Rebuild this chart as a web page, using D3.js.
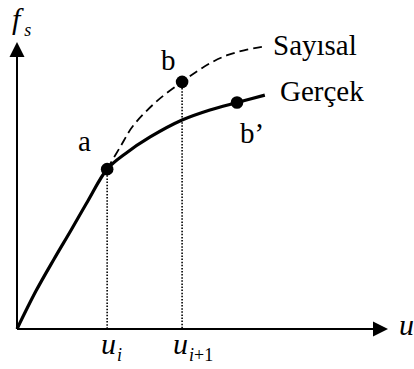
<!DOCTYPE html>
<html>
<head>
<meta charset="utf-8">
<script src="https://cdn.jsdelivr.net/npm/d3@7"></script>
<style>
  html, body { margin: 0; padding: 0; background: #fff; }
  svg { display: block; }
  svg text { font-family: "Liberation Serif", "DejaVu Serif", serif; }
</style>
</head>
<body>
<svg id="chart" width="414" height="369"></svg>
<script>
// Real (Gerçek) force–displacement curve
const realU  = [0, 0.51, 1.00, 1.46, 1.91, 2.43, 2.91, 3.59, 4.45, 5.20, 5.93, 6.68];
const realFs = [0, 1.32, 2.44, 3.45, 4.46, 5.57, 6.10, 6.69, 7.28, 7.63, 7.89, 8.15];

// Numerical (Sayısal) prediction starting from point a
const numU  = [2.43, 2.78, 3.13, 3.77, 4.45, 4.88, 5.26, 5.69, 6.12, 6.60];
const numFs = [5.57, 6.34, 7.08, 7.94, 8.61, 9.00, 9.30, 9.55, 9.71, 9.83];

// Marked states
const pointNames = ["a", "b", "b’"];
const pointU     = [2.43, 4.45, 5.93];
const pointFs    = [5.57, 8.61, 7.89];

// Displacement steps on the horizontal axis
const stepU      = [2.43, 4.45];
const stepFsTop  = [5.57, 8.61];

const svg = d3.select("#chart");
const x = d3.scaleLinear().domain([0, 10]).range([17, 388]);
const y = d3.scaleLinear().domain([0, 10]).range([329, 42]);

// Axes with arrow heads
const axX0 = x(0), axY0 = y(0);
svg.append("line")
  .attr("x1", axX0).attr("y1", axY0).attr("x2", x(10) - 15).attr("y2", axY0)
  .attr("stroke", "#000").attr("stroke-width", 2);
svg.append("line")
  .attr("x1", axX0).attr("y1", axY0).attr("x2", axX0).attr("y2", y(10) + 15)
  .attr("stroke", "#000").attr("stroke-width", 2);
svg.append("path")
  .attr("d", `M${x(10)},${axY0} L${x(10) - 15},${axY0 - 7.5} L${x(10) - 15},${axY0 + 7.5} Z`)
  .attr("fill", "#000");
svg.append("path")
  .attr("d", `M${axX0},${y(10)} L${axX0 - 7.5},${y(10) + 15} L${axX0 + 7.5},${y(10) + 15} Z`)
  .attr("fill", "#000");

// Dotted projections of a and b onto the u axis
svg.selectAll("line.step")
  .data(stepU.map((u, i) => ({u, f: stepFsTop[i]})))
  .join("line")
  .attr("class", "step")
  .attr("x1", d => x(d.u)).attr("x2", d => x(d.u))
  .attr("y1", d => y(d.f)).attr("y2", y(0))
  .attr("stroke", "#000").attr("stroke-width", 1.6)
  .attr("stroke-dasharray", "1.5,1.6");

const line = d3.line()
  .x(d => x(d[0])).y(d => y(d[1]))
  .curve(d3.curveCatmullRom.alpha(0.5));

// Numerical curve (dashed)
svg.append("path")
  .attr("d", line(numU.map((u, i) => [u, numFs[i]])))
  .attr("fill", "none").attr("stroke", "#000")
  .attr("stroke-width", 1.8).attr("stroke-dasharray", "9,5");

// Real curve (solid, thick)
svg.append("path")
  .attr("d", line(realU.map((u, i) => [u, realFs[i]])))
  .attr("fill", "none").attr("stroke", "#000")
  .attr("stroke-width", 3.2);

// State markers
svg.selectAll("circle.pt")
  .data(pointU.map((u, i) => ({u, f: pointFs[i]})))
  .join("circle")
  .attr("class", "pt")
  .attr("cx", d => x(d.u)).attr("cy", d => y(d.f))
  .attr("r", 6.3).attr("fill", "#000");

// Point labels
const labelPos = [[78, 151], [161, 70], [240, 143]];
svg.selectAll("text.pl")
  .data(pointNames)
  .join("text")
  .attr("class", "pl")
  .attr("x", (d, i) => labelPos[i][0])
  .attr("y", (d, i) => labelPos[i][1])
  .attr("font-size", 29)
  .text(d => d);

// Curve names
svg.append("text").attr("x", 273).attr("y", 55).attr("font-size", 29).text("Sayısal");
svg.append("text").attr("x", 280).attr("y", 101).attr("font-size", 29).text("Gerçek");

// Axis titles
const fs = svg.append("text").attr("x", 12).attr("y", 29)
  .attr("font-size", 30).attr("font-style", "italic");
fs.append("tspan").text("f");
fs.append("tspan").attr("font-size", 18).attr("dx", 4).attr("dy", 7).text("s");

svg.append("text").attr("x", 399).attr("y", 335).attr("font-size", 30)
  .attr("font-style", "italic").text("u");

// Step labels u_i and u_{i+1}
const ui = svg.append("text").attr("x", 101).attr("y", 354)
  .attr("font-size", 30).attr("font-style", "italic");
ui.append("tspan").text("u");
ui.append("tspan").attr("font-size", 18).attr("dx", 1).attr("dy", 7).text("i");

const ui1 = svg.append("text").attr("x", 173).attr("y", 354)
  .attr("font-size", 30).attr("font-style", "italic");
ui1.append("tspan").text("u");
ui1.append("tspan").attr("font-size", 18).attr("dx", 1).attr("dy", 7).text("i");
ui1.append("tspan").attr("font-size", 18).attr("font-style", "normal").text("+1");
</script>
</body>
</html>
